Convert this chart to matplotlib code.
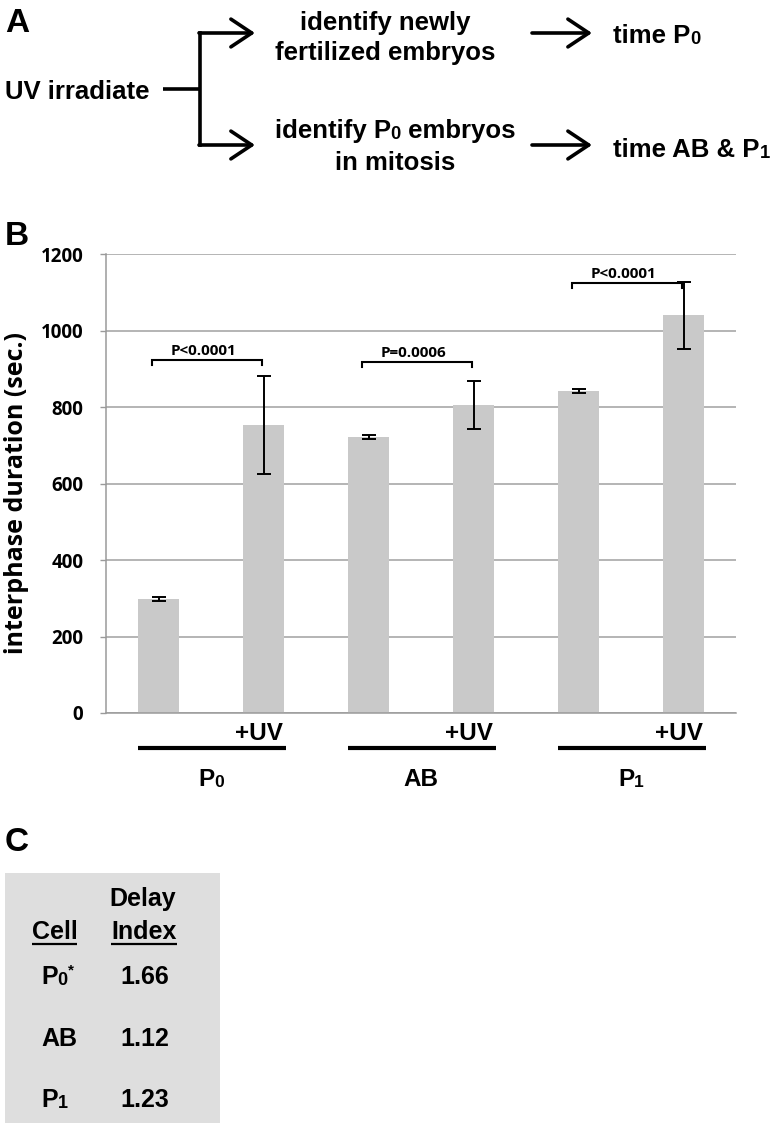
import re
import matplotlib
matplotlib.use('Agg')
import matplotlib.pyplot as plt
from matplotlib import transforms
from matplotlib.patches import Rectangle

# ---- data ----
bar_values = [298, 754, 721, 805, 841, 1040]
bar_errors = [6, 128, 5, 63, 5, 88]
group_labels = ['P_0', 'AB', 'P_1']
treat_label = '+UV'
p_labels = ['P<0.0001', 'P=0.0006', 'P<0.0001']
bracket_y = [923, 918, 1123]
y_ticks = [0, 200, 400, 600, 800, 1000, 1200]

table_cells = ['P_0^*', 'AB', 'P_1']
delay_index = [1.66, 1.12, 1.23]

flow_start = 'UV irradiate'
flow_mid = [['identify newly', 'fertilized embryos'], ['identify P_0 embryos', 'in mitosis']]
flow_end = ['time P_0', 'time AB & P_1']

ARIAL = 'Liberation Sans'
CALIBRI = 'Open Sans'
W, H = 773, 1127

fig = plt.figure(figsize=(W / 100, H / 100), dpi=100)
renderer = fig.canvas.get_renderer()

# overlay axes in pixel coords (y down)
ov = fig.add_axes([0, 0, 1, 1], zorder=0)
ov.set_xlim(0, W)
ov.set_ylim(H, 0)
ov.axis('off')


def text_width(ax, s, size, family):
    t = ax.text(0, 0, '|' + s + '|', fontsize=size, family=family, fontweight='bold')
    w = t.get_window_extent(renderer).width
    t.remove()
    t = ax.text(0, 0, '||', fontsize=size, family=family, fontweight='bold')
    w -= t.get_window_extent(renderer).width
    t.remove()
    return w


def rich_text(ax, x, y, s, size, transform=None, ha='left', family=ARIAL):
    # '_x' -> smaller digit on the baseline, '^x' -> small superscript
    if transform is None:
        transform = ax.transData
    tokens = re.split(r'([_^])(.)', s)
    pieces = [(tokens[0], size, 0)]
    i = 1
    while i < len(tokens):
        mark, ch, rest = tokens[i], tokens[i + 1], tokens[i + 2]
        if mark == '_':
            pieces.append((ch, size * 0.72, -1))
        else:
            pieces.append((ch, size * 0.6, size * 0.55))
        pieces.append((rest, size, 0))
        i += 3
    pieces = [p for p in pieces if p[0]]
    widths = [text_width(ax, p[0], p[1], family) for p in pieces]
    total = sum(widths)
    off = {'left': 0, 'center': -total / 2, 'right': -total}[ha]
    for (txt, sz, dy), w in zip(pieces, widths):
        tr = transforms.offset_copy(transform, x=off, y=dy, units='dots')
        ax.text(x, y, txt, fontsize=sz, family=family, fontweight='bold',
                transform=tr, ha='left', va='baseline', clip_on=False)
        off += w


# ---- panel A ----
ov.text(5, 32, 'A', fontsize=24, family=ARIAL, fontweight='bold')
ov.text(5, 99, flow_start, fontsize=18.5, family=ARIAL, fontweight='bold')
lw_a = 2.6
ov.plot([163, 200], [89, 89], color='black', lw=lw_a, solid_capstyle='butt')
ov.plot([200, 200], [33, 145], color='black', lw=lw_a, solid_capstyle='projecting')
arrow_kw = dict(arrowstyle='->,head_length=0.75,head_width=0.5', lw=lw_a, color='black',
                shrinkA=0, shrinkB=0, mutation_scale=20)
for ya in [33, 145]:
    ov.annotate('', xy=(255, ya), xytext=(199, ya), arrowprops=arrow_kw)
    ov.annotate('', xy=(592, ya), xytext=(532, ya), arrowprops=arrow_kw)

mid_centers = [385, 395]
mid_baselines = [[30, 60], [138, 170]]
for lines, cx, bls in zip(flow_mid, mid_centers, mid_baselines):
    for line, bl in zip(lines, bls):
        rich_text(ov, cx, bl, line, 18.5, ha='center')
for label, bl in zip(flow_end, [43, 157]):
    rich_text(ov, 613, bl, label, 18.5)

# ---- panel B ----
ov.text(5, 245, 'B', fontsize=24, family=ARIAL, fontweight='bold')

ax_l, ax_r, ax_t, ax_b = 106, 736, 254, 713
ax = fig.add_axes([ax_l / W, 1 - ax_b / H, (ax_r - ax_l) / W, (ax_b - ax_t) / H], zorder=1)
ax.set_facecolor('none')
x = list(range(len(bar_values)))
ax.bar(x, bar_values, width=0.39, color='#c9c9c9', zorder=2,
       yerr=bar_errors, capsize=4.7,
       error_kw=dict(elinewidth=1.4, capthick=1.4, ecolor='black', zorder=3))
ax.set_xlim(-0.5, 5.5)
ax.set_ylim(0, 1200)
ax.set_yticks(y_ticks)
ax.set_yticklabels([str(v) for v in y_ticks], fontsize=13.5, family=CALIBRI, fontweight='bold')
ax.set_xticks([])
ax.tick_params(axis='y', length=4.3, width=1, color='#9a9a9a', pad=12)
ax.yaxis.grid(True, color='#a0a0a0', lw=1.1)
ax.set_axisbelow(True)
for side in ['top', 'right']:
    ax.spines[side].set_visible(False)
for side in ['left', 'bottom']:
    ax.spines[side].set_color('#9a9a9a')
    ax.spines[side].set_linewidth(1.1)
ax.set_ylabel('interphase duration (sec.)', fontsize=18, family=CALIBRI, fontweight='bold')
ax.yaxis.set_label_coords(-0.122, 0.48)

# significance brackets
for g, (lab, by) in enumerate(zip(p_labels, bracket_y)):
    x0, x1 = 2 * g - 0.06, 2 * g + 0.99
    ax.plot([x0, x0, x1, x1], [by - 13, by, by, by - 13], color='black', lw=1.5, zorder=4,
            solid_joinstyle='miter')
    ax.text((x0 + x1) / 2 - 0.04, by + 14, lab, fontsize=11, family=CALIBRI,
            fontweight='bold', ha='center', va='baseline')

# group labels under the axis (x in data, y in figure pixels)
blend = transforms.blended_transform_factory(ax.transData, ov.transData)
for g, lab in enumerate(group_labels):
    ax.plot([2 * g - 0.2, 2 * g + 1.21], [748, 748], color='black', lw=3,
            solid_capstyle='butt', transform=blend, clip_on=False)
    ax.text(2 * g + 1.18, 740, treat_label, fontsize=17.5, family=ARIAL,
            fontweight='bold', ha='right', va='baseline', transform=blend, clip_on=False)
    rich_text(ax, 2 * g + 0.5, 786, lab, 17.5, transform=blend, ha='center')

# ---- panel C ----
ov.text(5, 851, 'C', fontsize=24, family=ARIAL, fontweight='bold')
ov.add_patch(Rectangle((5, 873), 215, 250, facecolor='#dedede', edgecolor='none'))
ov.text(143, 906, 'Delay', fontsize=18, family=ARIAL, fontweight='bold', ha='center', va='baseline')
for head, cx in zip(['Cell', 'Index'], [54.5, 144]):
    ov.text(cx, 939, head, fontsize=18, family=ARIAL, fontweight='bold', ha='center', va='baseline')
    hw = text_width(ov, head, 18, ARIAL) / 2
    ov.plot([cx - hw, cx + hw], [944, 944], color='black', lw=1.6, solid_capstyle='butt')
for cell, val, bl in zip(table_cells, delay_index, [984, 1046, 1107]):
    rich_text(ov, 41, bl, cell, 18)
    ov.text(144.5, bl, f'{val:.2f}', fontsize=18, family=ARIAL, fontweight='bold',
            ha='center', va='baseline')

fig.savefig('out.png', dpi=100)
